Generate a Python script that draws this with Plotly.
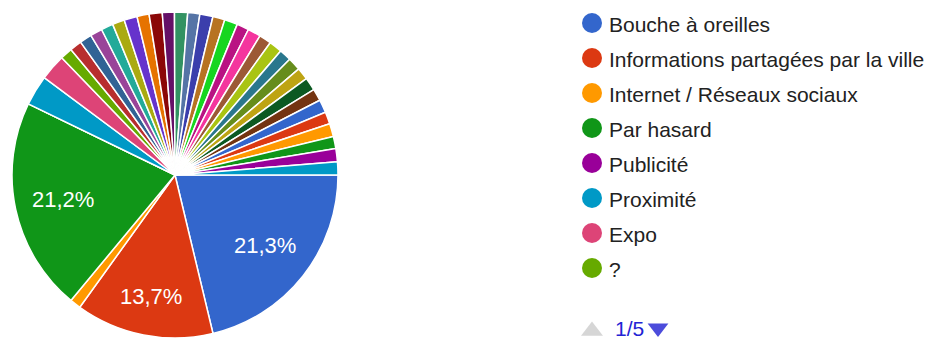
import math

import plotly.graph_objects as go

# Google Charts default palette (cycles after 31 colours)
GOOGLE_PALETTE = [
    "#3366cc", "#dc3912", "#ff9900", "#109618", "#990099", "#0099c6",
    "#dd4477", "#66aa00", "#b82e2e", "#316395", "#994499", "#22aa99",
    "#aaaa11", "#6633cc", "#e67300", "#8b0707", "#651067", "#329262",
    "#5574a6", "#3b3eac", "#b77322", "#16d620", "#b91383", "#f4359e",
    "#9c5935", "#a9c413", "#2a778d", "#668d1c", "#bea413", "#0c5922",
    "#743411",
]

visible_labels = [
    "Bouche à oreilles",
    "Informations partagées par la ville",
    "Internet / Réseaux sociaux",
    "Par hasard",
    "Publicité",
    "Proximité",
    "Expo",
    "?",
]
# the other answers live on legend pages 2-5
other_labels = [f"Réponse {i}" for i in range(9, 38)]
labels = visible_labels + other_labels

visible_values = [21.3, 13.7, 1.1, 21.2, 0.0, 3.0, 2.6, 1.2]
other_values = [
    1.2, 1.2, 1.2, 1.2, 1.2, 1.3, 1.2, 1.3, 1.2, 1.3,
    1.2, 1.3, 1.2, 1.3, 1.2, 1.3, 1.2, 1.3, 1.2, 1.3,
    1.2, 1.3, 1.2, 1.3, 1.2, 1.3, 1.2, 1.3, 1.3,
]
values = visible_values + other_values

page_text = "1/5"

colors = [GOOGLE_PALETTE[i % len(GOOGLE_PALETTE)] for i in range(len(labels))]

# the page body has an 8px margin, so the figure starts at (8, 8) in the window
OFF = 8
W, H = 947 - OFF, 340 - OFF
FONT = "Arial, Liberation Sans, sans-serif"


def px_x(x):
    return (x - OFF) / W


def px_y(y):
    return 1 - (y - OFF) / H


# pie box in window pixels
CX, CY, R = 175, 175, 163

fig = go.Figure()
fig.add_trace(
    go.Pie(
        labels=labels,
        values=values,
        textinfo="none",
        sort=False,
        direction="clockwise",
        rotation=90,
        marker=dict(colors=colors, line=dict(color="white", width=1.5)),
        domain=dict(x=[px_x(CX - R), px_x(CX + R)], y=[px_y(CY + R), px_y(CY - R)]),
        showlegend=False,
        hoverinfo="label+percent",
    )
)

# percentage labels on the large slices, Google style (along the bisector)
total = sum(values)
start = 90.0
for v in values:
    share = v / total
    sweep = share * 360
    if share > 0.1:
        mid = math.radians(start + sweep / 2)
        frac = 0.7 if share > 0.15 else 0.76
        fig.add_annotation(
            x=CX + frac * R * math.sin(mid),
            y=CY - frac * R * math.cos(mid),
            text=f"{share * 100:.1f}".replace(".", ",") + "%",
            showarrow=False,
            font=dict(family=FONT, size=22, color="white"),
        )
    start += sweep

# hand-built legend (first page of 5), in window pixel coordinates
leg_x = 592
leg_y = [23, 58, 93, 128, 163, 198, 233, 268]
fig.add_trace(
    go.Scatter(
        x=[leg_x] * len(visible_labels),
        y=leg_y,
        mode="markers",
        marker=dict(size=20, color=colors[: len(visible_labels)], line=dict(width=0)),
        hoverinfo="skip",
        showlegend=False,
        cliponaxis=False,
    )
)
for name, y in zip(visible_labels, leg_y):
    fig.add_annotation(
        x=607, y=y + 1, text=name, showarrow=False, xanchor="left",
        font=dict(family=FONT, size=21, color="#222222"),
    )

# pager: grey "previous" arrow, page count, blue "next" arrow
fig.add_trace(
    go.Scatter(
        x=[592, 658],
        y=[331, 328],
        mode="markers",
        marker=dict(symbol=["triangle-up", "triangle-down"], size=[19, 18],
                    color=["#c4c4c4", "#0000cc"], line=dict(width=0)),
        hoverinfo="skip",
        showlegend=False,
        cliponaxis=False,
    )
)
fig.add_annotation(x=613, y=328, text=page_text, showarrow=False, xanchor="left",
                   font=dict(family=FONT, size=21, color="#2323d4"))

fig.update_layout(
    width=W,
    height=H,
    margin=dict(l=0, r=0, t=0, b=0),
    paper_bgcolor="white",
    plot_bgcolor="white",
    xaxis=dict(range=[OFF, OFF + W], visible=False, domain=[0, 1], fixedrange=True),
    yaxis=dict(range=[OFF + H, OFF], visible=False, domain=[0, 1], fixedrange=True),
    showlegend=False,
)

fig.write_html("out.html")
